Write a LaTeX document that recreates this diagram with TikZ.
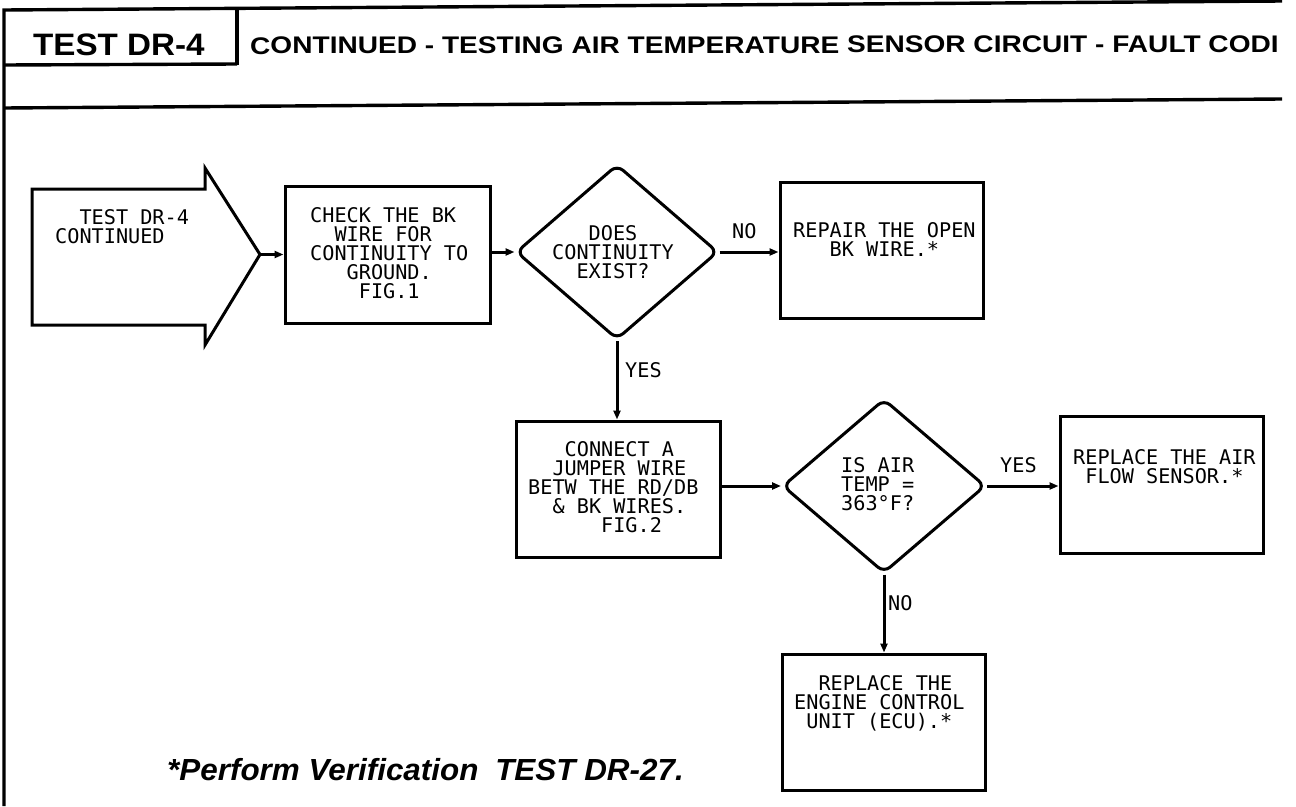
\documentclass[tikz,border=0pt]{standalone}
\usepackage{fontspec}
\usetikzlibrary{arrows.meta,shapes.geometric}
\newfontfamily\monof{DejaVu Sans Mono}
\newfontfamily\hdrA[FakeStretch=1.07]{Liberation Sans}
\newfontfamily\hdrB[FakeStretch=1.17]{Liberation Sans}
\newfontfamily\footf[FakeStretch=1.03]{Liberation Sans}
\begin{document}
\begin{tikzpicture}[x=1pt,y=-1pt,
  frame/.style={line width=3.4pt},
  box/.style={draw, rectangle, inner sep=0pt, line width=3pt},
  dia/.style={draw, diamond, inner sep=0pt, line width=3pt, rounded corners=8pt},
  arr/.style={line width=3pt, -{Triangle[length=9pt,width=7pt]}},
  txt/.style={anchor=north west, inner sep=0pt, align=left, font=\monof\fontsize{20.2}{19}\selectfont},
  lbl/.style={anchor=north west, inner sep=0pt, font=\monof\fontsize{20.2}{19}\selectfont}]
\useasboundingbox (0,0) rectangle (1296,806);
\fill[white] (0,0) rectangle (1296,806);
% frame
\draw[frame] (1282,1) -- (4,10) -- (4,806);
\draw[frame] (237,9) -- (237,65);
\draw[frame] (4,65) -- (237,64);
\draw[frame] (4,108) -- (1282,99);
\node[anchor=base west, inner sep=0pt, font=\hdrA\bfseries\fontsize{31}{31}\selectfont] (hdr) at (33,55) {TEST DR-4};
\node[anchor=base west, inner sep=0pt, rotate=0.1, font=\hdrB\bfseries\fontsize{24}{24}\selectfont] (title) at (250,54) {CONTINUED - TESTING AIR TEMPERATURE SENSOR CIRCUIT - FAULT CODI};
% start block arrow
\draw[line width=3pt, line join=miter] (32,189) -- (205,189) -- (205,168) -- (260,254.5) -- (205,345) -- (205,325) -- (32,325) -- cycle;
\coordinate (stip) at (260,254.5);
\node[txt] (starttxt) at (55,209) {\phantom{XX}TEST DR-4\\CONTINUED};
% boxes
\node[box, minimum width=205pt, minimum height=137pt] (check) at (387.5,254.5) {};
\node[txt] (checktxt) at (310,207) {CHECK THE BK\\\phantom{XX}WIRE FOR\\CONTINUITY TO\\\phantom{XXX}GROUND.\\\phantom{XXXX}FIG.1};
\node[dia, minimum width=202pt, minimum height=175pt] (d1) at (617,252) {};
\node[txt] (d1txt) at (552,225) {\phantom{XXX}DOES\\CONTINUITY\\\phantom{XX}EXIST?};
\node[box, minimum width=203pt, minimum height=136pt] (repair) at (881.5,250) {};
\node[txt] (repairtxt) at (793,222) {REPAIR THE OPEN\\\phantom{XXX}BK WIRE.*};
\node[box, minimum width=204pt, minimum height=136pt] (connect) at (618,489) {};
\node[txt] (conntxt) at (528,441) {\phantom{XXX}CONNECT A\\\phantom{XX}JUMPER WIRE\\BETW THE RD/DB\\\phantom{XX}\& BK WIRES.\\\phantom{XXXXXX}FIG.2};
\node[dia, minimum width=203pt, minimum height=174pt] (d2) at (884,486) {};
\node[txt] (d2txt) at (841,457) {IS AIR\\TEMP =\\363°F?};
\node[box, minimum width=203pt, minimum height=137pt] (air) at (1161.5,484.5) {};
\node[txt] (airtxt) at (1073,449) {REPLACE THE AIR\\\phantom{X}FLOW SENSOR.*};
\node[box, minimum width=203pt, minimum height=136pt] (ecu) at (883.5,722) {};
\node[txt] (ecutxt) at (794,675) {\phantom{XX}REPLACE THE\\ENGINE CONTROL\\\phantom{X}UNIT (ECU).*};
% labels
\node[lbl] (lno1) at (732,223) {NO};
\node[lbl] (lyes1) at (625,362) {YES};
\node[lbl] (lyes2) at (1000,457) {YES};
\node[lbl] (lno2) at (888,595) {NO};
% connectors
\draw[arr] (stip) -- (check.west);
\draw[arr] (check.east |- d1.west) -- (d1.west);
\draw[arr] (d1.east) -- (repair.west |- d1.east);
\draw[arr] (d1.south) -- (d1.south |- connect.north);
\draw[arr] (connect.east |- d2.west) -- (d2.west);
\draw[arr] (d2.east) -- (air.west |- d2.east);
\draw[arr] (d2.south) -- (d2.south |- ecu.north);
% footer
\node[anchor=base west, inner sep=0pt, font=\footf\bfseries\itshape\fontsize{30.5}{31}\selectfont] (foot) at (167,780) {*Perform Verification\hspace{0.55em}TEST DR-27.};
\end{tikzpicture}
\end{document}
